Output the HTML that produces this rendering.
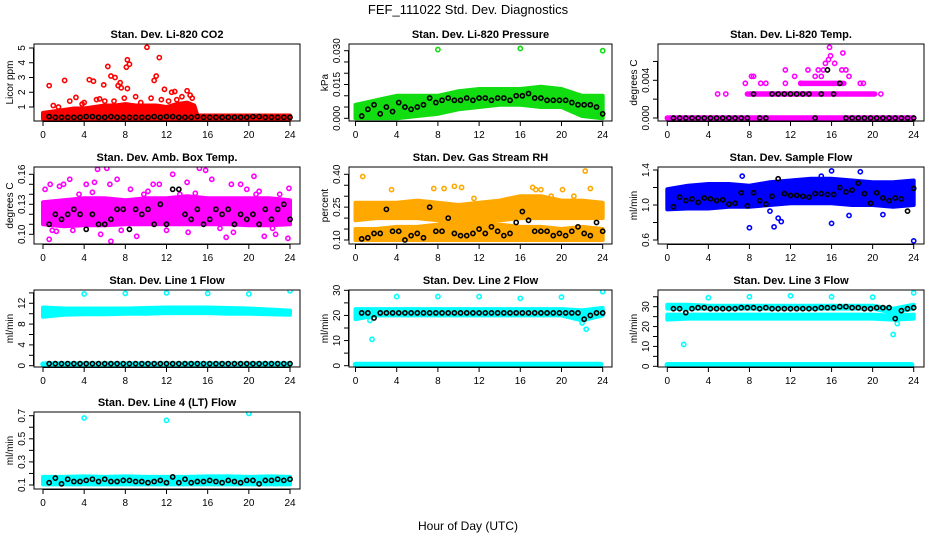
<!DOCTYPE html>
<html><head><meta charset="utf-8"><style>
body{margin:0;background:#fff;}
svg{display:block;font-family:"Liberation Sans",Arial,sans-serif;}
.t{font-size:11px;font-weight:bold;text-anchor:middle;}
.tk{font-size:10px;text-anchor:middle;}
</style></head><body>
<svg id="c" width="936" height="540" viewBox="0 0 936 540">
<text x="468" y="14" font-size="13" text-anchor="middle">FEF_111022  Std. Dev. Diagnostics</text>
<text x="468" y="530" font-size="12" text-anchor="middle">Hour of Day (UTC)</text>
</svg>
<script>
const hoursB=[0.6,1.2,1.8,2.4,3.0,3.6,4.2,4.8,5.4,6.0,6.6,7.2,7.8,8.4,9.0,9.6,10.2,10.8,11.4,12.0,12.6,13.2,13.8,14.4,15.0,15.6,16.2,16.8,17.4,18.0,18.6,19.2,19.8,20.4,21.0,21.6,22.2,22.8,23.4,24.0];
const envHours=[0,2,4,6,8,10,12,14,16,18,20,22,24];
const co2Black=[0.35,0.3,0.3,0.3,0.3,0.3,0.35,0.35,0.3,0.3,0.35,0.3,0.3,0.3,0.3,0.3,0.3,0.35,0.3,0.35,0.35,0.3,0.3,0.3,0.35,0.3,0.3,0.3,0.3,0.3,0.3,0.3,0.3,0.35,0.35,0.3,0.3,0.3,0.3,0.3];
const co2EnvHours=[0,1,2,3,4,5,6,7,8,9,10,11,12,13,14,14.7,15,24];
const co2Lo=[0.2,0.2,0.2,0.2,0.2,0.2,0.2,0.2,0.2,0.2,0.2,0.2,0.2,0.2,0.2,0.2,0.2,0.2];
const co2Hi=[0.6,0.7,0.8,0.9,0.9,1.0,1.1,1.1,1.2,1.1,1.1,1.1,1.0,1.2,1.3,1.1,0.42,0.42];
const co2OutX=[0.6,2.1,4.5,4.9,5.5,5.9,6.3,6.6,7.0,7.3,7.5,7.6,8.1,8.2,8.4,8.2,7.9,10.1,10.8,11.0,11.3,11.8,12.5,12.8,14.0,3.2,1.0,4.0,13.5,14.3,9.0,11.5,2.6,5.2,6.0,9.5,10.5,12.2,13.0,14.5,3.8,6.9,1.5];
const co2OutY=[2.45,2.8,2.85,2.75,1.55,2.5,3.75,3.1,3.0,2.45,2.65,2.3,3.7,4.2,3.9,2.25,1.6,5.05,2.8,3.1,4.35,2.2,2.0,2.05,2.1,1.65,1.1,1.3,1.7,1.8,1.7,1.5,1.4,1.5,1.4,1.3,1.6,1.4,1.5,1.6,1.2,1.4,1.0];
const presBlack=[0.001,0.004,0.006,0.002,0.005,0.003,0.007,0.005,0.004,0.005,0.006,0.009,0.007,0.008,0.009,0.008,0.008,0.009,0.008,0.009,0.009,0.008,0.009,0.009,0.008,0.01,0.01,0.011,0.009,0.009,0.008,0.008,0.008,0.008,0.007,0.006,0.006,0.006,0.005,0.002];
const presLo=[0,0,0,0.001,0.002,0.004,0.005,0.006,0.006,0.005,0.005,0.001,0];
const presHi=[0.006,0.008,0.010,0.010,0.010,0.012,0.013,0.013,0.013,0.014,0.013,0.010,0.010];
const presOutX=[8,16,24];
const presOutY=[0.0305,0.031,0.030];
const tempBlack=[0,0,0,0,0,0,0,0,0,0,0,0,0,0.00255,0,0,0.00255,0.00255,0.00255,0.00255,0.00255,0.00255,0.00255,0,0.00255,0.0051,0.00255,0.00368,0,0,0,0,0,0,0,0,0,0,0,0];
const tempRowLevel=[0,0.00255,0.00368];
const tempRowFrom=[0,7.8,13.0];
const tempRowTo=[24,20.2,17.2];
const tempOutX=[4.9,5.7,7.6,8.2,8.4,9.1,9.6,11.5,11.5,12.4,13.7,14.7,15.2,14.4,15,15.4,15.7,15.9,17.1,17.0,17.4,18.8,19.1,20.8,17.7,13.0,16.3,15.8];
const tempOutY=[0.00255,0.00255,0.00368,0.00442,0.00442,0.00368,0.00368,0.00368,0.0051,0.00442,0.0051,0.0051,0.0051,0.00442,0.00442,0.0058,0.0062,0.0066,0.0069,0.0051,0.0051,0.00368,0.00368,0.00255,0.00442,0.00368,0.0058,0.0075];
const ambBlack=[0.11,0.12,0.115,0.12,0.125,0.12,0.105,0.12,0.11,0.11,0.115,0.125,0.125,0.105,0.125,0.12,0.125,0.11,0.13,0.11,0.145,0.145,0.12,0.115,0.125,0.11,0.115,0.125,0.12,0.125,0.11,0.12,0.115,0.12,0.11,0.125,0.115,0.125,0.13,0.115];
const ambLo=[0.11,0.108,0.109,0.109,0.11,0.11,0.11,0.11,0.11,0.11,0.109,0.109,0.11];
const ambHi=[0.132,0.134,0.136,0.136,0.134,0.136,0.136,0.138,0.136,0.136,0.136,0.136,0.134];
const ambOutX=[0.2,0.7,0.6,2.0,2.6,1.6,3.5,4.2,5.3,5.0,6.2,6.5,6.6,5.6,7.2,9.1,8.5,10.7,11.3,12.6,13.3,14.0,14.1,15.2,15.8,16.4,17.8,18.5,18.3,19.2,20.5,20.7,21.5,22.6,23.0,23.8,23.9,19.8,1.3,9.8,0.9,2.9,4.8,7.6,10.2,12.0,14.8,17.2,21.0,22.3];
const ambOutY=[0.145,0.15,0.095,0.15,0.155,0.148,0.14,0.15,0.165,0.152,0.166,0.15,0.093,0.1,0.155,0.098,0.145,0.15,0.15,0.16,0.14,0.152,0.102,0.166,0.164,0.155,0.097,0.102,0.15,0.15,0.158,0.14,0.098,0.1,0.14,0.096,0.146,0.145,0.103,0.14,0.104,0.104,0.142,0.104,0.143,0.104,0.141,0.106,0.143,0.106];
const rhBlack=[0.105,0.11,0.13,0.13,0.24,0.14,0.14,0.10,0.12,0.13,0.11,0.25,0.14,0.14,0.20,0.13,0.12,0.12,0.13,0.15,0.13,0.16,0.14,0.12,0.13,0.18,0.23,0.19,0.14,0.14,0.14,0.12,0.13,0.12,0.14,0.16,0.13,0.12,0.18,0.14];
const rhLowLo=[0.1,0.1,0.1,0.1,0.1,0.1,0.1,0.1,0.1,0.1,0.1,0.1,0.1];
const rhLowHi=[0.15,0.15,0.16,0.16,0.17,0.18,0.18,0.17,0.16,0.16,0.15,0.16,0.15];
const rhUpLo=[0.19,0.2,0.2,0.2,0.19,0.18,0.19,0.19,0.2,0.2,0.2,0.2,0.2];
const rhUpHi=[0.27,0.27,0.27,0.28,0.27,0.26,0.27,0.28,0.3,0.3,0.28,0.28,0.27];
const rhOutX=[0.7,3.5,7.6,8.6,9.6,10.3,11.5,17.2,17.5,18.0,20.1,22.3,22.8,21.2,19,23.7];
const rhOutY=[0.39,0.33,0.335,0.335,0.345,0.34,0.29,0.34,0.33,0.33,0.33,0.415,0.335,0.3,0.3,0.24];
const flowBlack=[0.98,1.09,1.05,1.07,1.03,1.08,1.07,1.05,1.06,1.01,1.02,1.14,0.99,1.14,1.05,1.01,1.10,1.30,1.13,1.11,1.11,1.10,1.09,1.13,1.13,1.12,1.12,1.20,1.15,1.17,1.25,1.13,1.02,1.14,1.08,1.05,1.08,1.07,0.93,1.19];
const flowLo=[0.95,0.96,0.96,0.98,0.98,1.0,1.02,1.02,1.02,1.0,1.0,0.98,1.0];
const flowHi=[1.18,1.22,1.24,1.24,1.22,1.26,1.28,1.3,1.3,1.28,1.26,1.26,1.28];
const flowOutX=[8,10.4,11.1,10.8,16,17.7,16,18.8,24,10,7.3,15,21];
const flowOutY=[0.74,0.75,0.81,0.85,0.79,0.88,1.39,1.38,0.59,0.93,1.33,1.33,0.89];
const l1Black=[0.4,0.4,0.4,0.4,0.4,0.4,0.4,0.4,0.4,0.4,0.4,0.4,0.4,0.4,0.4,0.4,0.4,0.4,0.4,0.4,0.4,0.4,0.4,0.4,0.4,0.4,0.4,0.4,0.4,0.4,0.4,0.4,0.4,0.4,0.4,0.4,0.4,0.4,0.4,0.4];
const l1Lo=[9.4,9.8,9.9,9.9,10,10,10.1,10.1,10.1,10,10,9.9,9.8];
const l1Hi=[11.2,11,11,11,11,11.1,11.2,11.2,11.2,11.1,11,10.8,10.6];
const l1OutX=[4,8,12,16,20,24];
const l1OutY=[13.8,13.9,14,13.9,13.8,14.4];
const l2Black=[21,21,19,21,21,21,21,21,21,21,21,21,21,21,21,21,21,21,21,21,21,21,21,21,21,21,21,21,21,21,21,21,21,21,21,21,18.5,20,21,21];
const l2Lo=[18.5,20,20,20,20,20,20,20,20,20,20,18,20];
const l2Hi=[22.5,22.5,22.5,22.5,22.5,22.5,22.5,22.5,22.5,22.5,22.5,22,23];
const l2OutX=[4,8,12,16,20,24,1.6,1.4,22,22.4];
const l2OutY=[27.5,27.5,27.5,26.8,27.3,29.5,10.5,18,17,14.5];
const l3Black=[29,29,27,29,29.5,29.5,29,29,29,29,29,29.5,29.5,29.5,29,29.5,29,29,29,29,29,29,29,29,29.5,29.5,29.5,30,30,29.5,29.5,29,29,29.5,29.5,29.5,24,28,29,29.5];
const l3Lo=[23.5,24,24,24,24,24,24,24,24,24,24,23.5,24];
const l3Hi=[26,26,26,26,26,26,26,26,26,26,26,25.5,26];
const l3UpLo=[29,29,29,29,29,29,29,29,29,29,29,27,29];
const l3UpHi=[31,31,30.5,30.5,30.5,30.5,30.5,30.5,30.5,30.5,30.5,29,31];
const l3OutX=[4,8,12,16,20,24,1.6,22,22.4];
const l3OutY=[34.5,35,35.5,35,34.8,37,11,16,21.5];
const l4Black=[0.12,0.16,0.11,0.15,0.13,0.13,0.14,0.15,0.13,0.15,0.13,0.13,0.14,0.14,0.13,0.13,0.12,0.13,0.14,0.12,0.17,0.12,0.15,0.12,0.13,0.13,0.14,0.13,0.12,0.14,0.13,0.12,0.14,0.14,0.11,0.14,0.14,0.15,0.14,0.15];
const l4Lo=[0.105,0.105,0.105,0.105,0.105,0.105,0.105,0.105,0.105,0.105,0.105,0.105,0.105];
const l4Hi=[0.17,0.17,0.175,0.17,0.175,0.17,0.17,0.17,0.175,0.175,0.17,0.175,0.17];
const l4OutX=[4,12,20];
const l4OutY=[0.68,0.66,0.72];
const xTicks=[0,4,8,12,16,20,24];

const svg=document.getElementById('c');
const NS='http://www.w3.org/2000/svg';
function mk(tag,attrs,parent){const e=document.createElementNS(NS,tag);for(const k in attrs)e.setAttribute(k,attrs[k]);(parent||svg).appendChild(e);return e;}
const cols=[[34,300,43,290],[349,612,355.5,602.7],[658,924,667.3,913.7]];
const rows=[[44,121],[167,244],[290,367],[412,489]];

function panel(cfg){
  const [bl,br,x0,x24]=cols[cfg.c];const [bt,bb]=rows[cfg.r];
  const g=mk('g',{});
  
  
  const X=h=>x0+h*(x24-x0)/24;
  const Y=v=>cfg.p0+(v-cfg.v0)*(cfg.p1-cfg.p0)/(cfg.v1-cfg.v0);
  const clipId='cl'+cfg.c+cfg.r;
  const cp=mk('clipPath',{id:clipId},g);mk('rect',{x:bl,y:bt,width:br-bl,height:bb-bt},cp);
  const d=mk('g',{'clip-path':'url(#'+clipId+')'},g);
  (cfg.envs||[]).forEach(en=>{
    let pts=en.h.map((h,i)=>X(h)+','+Y(en.hi[i]));
    pts=pts.concat(en.h.map((h,i)=>X(h)+','+Y(en.lo[i])).reverse());
    const p=mk('polygon',{points:pts.join(' '),fill:cfg.col,stroke:cfg.col,'stroke-width':4,'stroke-linejoin':'round'},d);
    
    
  });
  (cfg.rowsL||[]).forEach((lv,i)=>{
    const l=mk('line',{x1:X(cfg.rowsF[i]),x2:X(cfg.rowsT[i]),y1:Y(lv),y2:Y(lv),stroke:cfg.col,'stroke-width':5.5,'stroke-linecap':'round'},d);
    
    
  });
  cfg.ox.forEach((h,i)=>{
    const c=mk('circle',{cx:X(h),cy:Y(cfg.oy[i]),r:2.1,fill:'none',stroke:cfg.col,'stroke-width':1.6},d);
    
    
  });
  hoursB.forEach((h,i)=>{
    const c=mk('circle',{cx:X(h),cy:Y(cfg.black[i]),r:2.1,fill:'none',stroke:'#000','stroke-width':1.6},d);
    
    
  });
  mk('rect',{x:bl,y:bt,width:br-bl,height:bb-bt,fill:'none',stroke:'#000','stroke-width':1},g);
  const tt=mk('text',{x:(bl+br)/2,y:bt-6,class:'t'},g);tt.textContent=cfg.title;
  
  
  mk('line',{x1:X(0),x2:X(24),y1:bb+0.5,y2:bb+0.5,stroke:'#000'},g);
  xTicks.forEach(t=>{
    mk('line',{x1:X(t),x2:X(t),y1:bb,y2:bb+5,stroke:'#000'},g);
    const tx=mk('text',{x:X(t),y:bb+17,class:'tk'},g);tx.textContent=t;
    
    
  });
  const yt=cfg.yticks;
  mk('line',{x1:bl-0.5,x2:bl-0.5,y1:Y(yt[0]),y2:Y(yt[yt.length-1]),stroke:'#000'},g);
  yt.forEach(t=>mk('line',{x1:bl-5,x2:bl,y1:Y(t),y2:Y(t),stroke:'#000'},g));
  cfg.ylabs.forEach((t,i)=>{
    const y=Y(t);
    const tx=mk('text',{x:bl-9,y:y,class:'tk',transform:'rotate(-90 '+(bl-9)+' '+y+')'},g);tx.textContent=cfg.ylabT[i];
    
    
  });
  const yl=mk('text',{x:bl-21,y:(bt+bb)/2,class:'tk',transform:'rotate(-90 '+(bl-21)+' '+((bt+bb)/2)+')'},g);yl.textContent=cfg.ylab;
  
  
}
panel({name:'co2-panel',c:0,r:0,title:'Stan. Dev. Li-820 CO2',ylab:'Licor ppm',v0:1,p0:107,v1:5,p1:48,col:'#ff0000',
  envs:[{h:co2EnvHours,lo:co2Lo,hi:co2Hi}],ox:co2OutX,oy:co2OutY,black:co2Black,
  yticks:[1,2,3,4,5],ylabs:[1,2,3,4,5],ylabT:['1','2','3','4','5']});
panel({name:'pressure-panel',c:1,r:0,title:'Stan. Dev. Li-820 Pressure',ylab:'kPa',v0:0,p0:118.3,v1:0.03,p1:50.7,col:'#11dd11',
  envs:[{h:envHours,lo:presLo,hi:presHi}],ox:presOutX,oy:presOutY,black:presBlack,
  yticks:[0,0.005,0.01,0.015,0.02,0.025,0.03],ylabs:[0,0.015,0.03],ylabT:['0.000','0.015','0.030']});
panel({name:'temp-panel',c:2,r:0,title:'Stan. Dev. Li-820 Temp.',ylab:'degrees C',v0:0,p0:118,v1:0.004,p1:80.3,col:'#ff00ff',
  rowsL:tempRowLevel,rowsF:tempRowFrom,rowsT:tempRowTo,ox:tempOutX,oy:tempOutY,black:tempBlack,
  yticks:[0,0.002,0.004,0.006],ylabs:[0,0.004],ylabT:['0.000','0.004']});
panel({name:'amb-box-temp-panel',c:0,r:1,title:'Stan. Dev. Amb. Box Temp.',ylab:'degrees C',v0:0.10,p0:234.3,v1:0.16,p1:174.3,col:'#ff00ff',
  envs:[{h:envHours,lo:ambLo,hi:ambHi}],ox:ambOutX,oy:ambOutY,black:ambBlack,
  yticks:[0.10,0.11,0.12,0.13,0.14,0.15,0.16],ylabs:[0.10,0.13,0.16],ylabT:['0.10','0.13','0.16']});
panel({name:'gas-rh-panel',c:1,r:1,title:'Stan. Dev. Gas Stream RH',ylab:'percent',v0:0.10,p0:240,v1:0.40,p1:174.3,col:'#ffa800',
  envs:[{h:envHours,lo:rhLowLo,hi:rhLowHi},{h:envHours,lo:rhUpLo,hi:rhUpHi}],ox:rhOutX,oy:rhOutY,black:rhBlack,
  yticks:[0.10,0.15,0.20,0.25,0.30,0.35,0.40],ylabs:[0.10,0.25,0.40],ylabT:['0.10','0.25','0.40']});
panel({name:'sample-flow-panel',c:2,r:1,title:'Stan. Dev. Sample Flow',ylab:'ml/min',v0:0.6,p0:240,v1:1.4,p1:170,col:'#0000ff',
  envs:[{h:envHours,lo:flowLo,hi:flowHi}],ox:flowOutX,oy:flowOutY,black:flowBlack,
  yticks:[0.6,0.8,1.0,1.2,1.4],ylabs:[0.6,1.0,1.4],ylabT:['0.6','1.0','1.4']});
panel({name:'line1-flow-panel',c:0,r:2,title:'Stan. Dev. Line 1 Flow',ylab:'ml/min',v0:0,p0:365.7,v1:12,p1:303.3,col:'#00ffff',
  envs:[{h:envHours,lo:l1Lo,hi:l1Hi}],rowsL:[0.3],rowsF:[0],rowsT:[24],ox:l1OutX,oy:l1OutY,black:l1Black,
  yticks:[0,2,4,6,8,10,12,14],ylabs:[0,4,8,12],ylabT:['0','4','8','12']});
panel({name:'line2-flow-panel',c:1,r:2,title:'Stan. Dev. Line 2 Flow',ylab:'ml/min',v0:0,p0:365.7,v1:30,p1:290.3,col:'#00ffff',
  envs:[{h:envHours,lo:l2Lo,hi:l2Hi}],rowsL:[0.5],rowsF:[0],rowsT:[23.8],ox:l2OutX,oy:l2OutY,black:l2Black,
  yticks:[0,5,10,15,20,25,30],ylabs:[0,10,20,30],ylabT:['0','10','20','30']});
panel({name:'line3-flow-panel',c:2,r:2,title:'Stan. Dev. Line 3 Flow',ylab:'ml/min',v0:0,p0:366.3,v1:30,p1:306.7,col:'#00ffff',
  envs:[{h:envHours,lo:l3Lo,hi:l3Hi},{h:envHours,lo:l3UpLo,hi:l3UpHi}],rowsL:[0.8],rowsF:[0],rowsT:[23.8],ox:l3OutX,oy:l3OutY,black:l3Black,
  yticks:[0,5,10,15,20,25,30,35],ylabs:[0,10,20,30],ylabT:['0','10','20','30']});
panel({name:'line4-flow-panel',c:0,r:3,title:'Stan. Dev. Line 4 (LT) Flow',ylab:'ml/min',v0:0.1,p0:485,v1:0.7,p1:415.7,col:'#00ffff',
  envs:[{h:envHours,lo:l4Lo,hi:l4Hi}],ox:l4OutX,oy:l4OutY,black:l4Black,
  yticks:[0.1,0.2,0.3,0.4,0.5,0.6,0.7],ylabs:[0.1,0.3,0.5,0.7],ylabT:['0.1','0.3','0.5','0.7']});
</script>
</body></html>
